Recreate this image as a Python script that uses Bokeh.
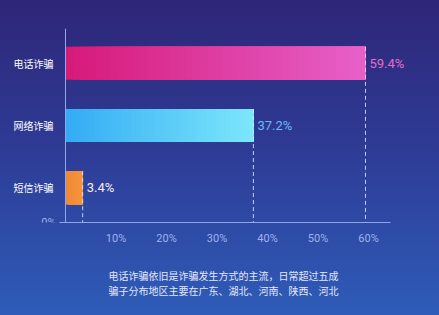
from bokeh.plotting import figure
from bokeh.models import Range1d, FactorRange, FixedTicker, Label, LabelSet, ColumnDataSource, Title
from bokeh.core.properties import value
from bokeh.embed import file_html
from bokeh.resources import INLINE

# ---- data ----
categories = ["电话诈骗", "网络诈骗", "短信诈骗"]
shares = [59.4, 37.2, 3.4]
value_texts = ["59.4%", "37.2%", "3.4%"]
x_ticks = [10, 20, 30, 40, 50, 60]
x_tick_labels = ["10%", "20%", "30%", "40%", "50%", "60%"]
zero_label = "0%"
caption_lines = ["电话诈骗依旧是诈骗发生方式的主流，日常超过五成",
                 "骗子分布地区主要在广东、湖北、河南、陕西、河北"]

# ---- styles ----
bar_start_colors = [(214, 26, 122), (52, 172, 244), (240, 136, 52)]
bar_end_colors = [(230, 96, 200), (124, 230, 250), (246, 150, 64)]
label_colors = ["#e46ccc", "#6cb8f4", "#f4f0ea"]
CJK = "Noto Sans CJK SC"
BAR_H = 0.53
PAD = 0.04  # fraction of the factor span
W, H = 439, 315
TOP, BOTTOM, ORIGIN_PX = 28, 90, 65
PX_PER_UNIT = 300 / 59.4
AXIS_END = 64.35
X_START = -ORIGIN_PX / PX_PER_UNIT
X_END = (W - ORIGIN_PX) / PX_PER_UNIT

p = figure(width=W, height=H, output_backend="svg", toolbar_location=None,
           y_range=FactorRange(factors=categories[::-1], range_padding=PAD),
           x_range=Range1d(X_START, X_END),
           min_border_left=0, min_border_right=0,
           min_border_top=TOP, min_border_bottom=BOTTOM)
p.styles = {"background": "linear-gradient(to bottom, #2e2678 0%, #2e3a94 45%, #2e5cb8 100%)"}
p.background_fill_alpha = 0
p.border_fill_alpha = 0
p.outline_line_color = None
p.grid.visible = False

# gradient bars: overlapping slices (each runs to the bar end, later ones on top)
N = 40
ys, lefts, rights, cols = [], [], [], []
for cat, v, c0, c1 in zip(categories, shares, bar_start_colors, bar_end_colors):
    for k in range(N):
        t = k / (N - 1)
        col = "#%02x%02x%02x" % tuple(int(round(a + (b - a) * t)) for a, b in zip(c0, c1))
        ys.append(cat)
        lefts.append(v * k / N)
        rights.append(v)
        cols.append(col)
p.hbar(y=ys, left=lefts, right=rights, height=BAR_H, fill_color=cols, line_color=None)

# dashed drops from bar ends to the baseline
p.segment(x0=shares, x1=shares,
          y0=[(c, BAR_H / 2) for c in categories],
          y1=[(categories[-1], -1.5)] * len(categories),
          line_color="#dfe6ff", line_dash="4 3", line_width=1, line_alpha=0.85)

# value labels
src = ColumnDataSource(dict(x=shares, y=categories, t=value_texts, c=label_colors))
p.add_layout(LabelSet(x="x", y="y", text="t", source=src, x_offset=4,
                      text_color="c", text_font=value("Roboto"), text_font_size="13px",
                      text_baseline="middle", text_align="left"))

# axes
yax = p.yaxis[0]
yax.fixed_location = 0
yax.axis_line_color = "#8fa8ec"
yax.major_tick_line_color = None
yax.minor_tick_line_color = None
yax.major_label_text_color = "#ffffff"
yax.major_label_text_font = CJK
yax.major_label_text_font_size = "10px"
yax.major_label_standoff = 6

xax = p.xaxis[0]
xax.bounds = (-1.2, AXIS_END)
xax.ticker = FixedTicker(ticks=x_ticks)
xax.major_label_overrides = {t: s for t, s in zip(x_ticks, x_tick_labels)}
xax.axis_line_color = "#8fa8ec"
xax.major_tick_line_color = None
xax.minor_tick_line_color = None
xax.major_label_text_color = "#9fb2ea"
xax.major_label_text_font = "Roboto"
xax.major_label_text_font_size = "11px"
xax.major_label_standoff = 3

# "0%" at the foot of the vertical axis (synthetic start of the categorical range)
y_start = -PAD * len(categories) / 2
p.add_layout(Label(x=0, y=y_start, x_offset=-10, text=zero_label,
                   text_align="right", text_baseline="alphabetic", text_color="#9fb2ea",
                   text_font="Roboto", text_font_size="11px"))

p.add_layout(Title(text="\n".join(caption_lines), align="left", offset=108, standoff=36,
                   text_color="#e4e8fa", text_font=CJK, text_font_size="10px",
                   text_line_height=1.0, text_font_style="normal"), "below")

open("out.html", "w").write(file_html(p, INLINE))
